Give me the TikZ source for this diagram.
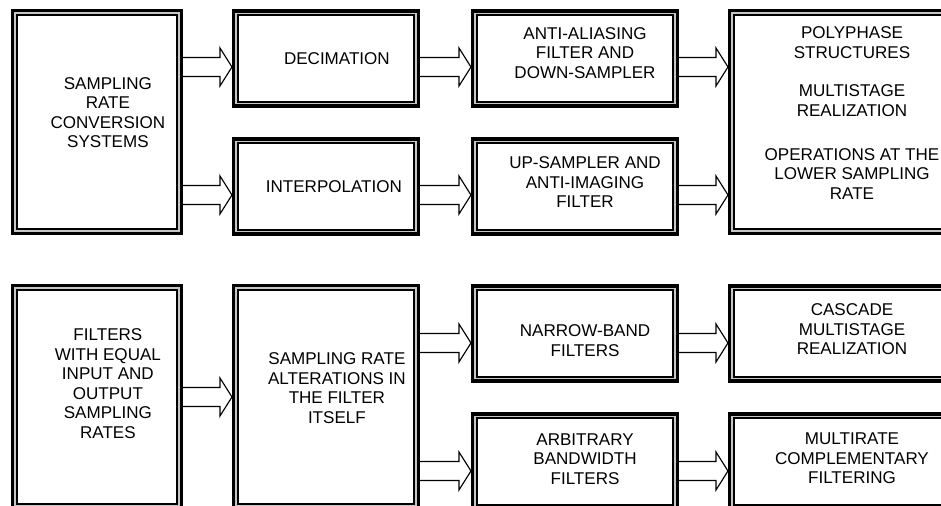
\documentclass[tikz,border=0pt]{standalone}
\usepackage{fontspec}
\setmainfont{Liberation Sans}
\usetikzlibrary{calc}

% hollow block arrow: source, target, level
\newcommand{\fatarrow}[3]{%
  \coordinate (fa-a) at (#1.east |- #3);
  \coordinate (fa-b) at (#2.west |- #3);
  \draw[arrowbody] ($(fa-a)+(0,-9.5)$) -- ($(fa-b)+(-12,-9.5)$) -- ($(fa-b)+(-12,-19)$) -- (fa-b)
    -- ($(fa-b)+(-12,19)$) -- ($(fa-b)+(-12,9.5)$) -- ($(fa-a)+(0,9.5)$);
}

\begin{document}
\begin{tikzpicture}[x=0.02cm, y=-0.02cm,
    box/.style={draw, fill=white, line width=1.1pt, double=gray!45, double distance=0.8pt,
      preaction={draw, line width=4.6pt}, outer sep=2.3pt, inner sep=0pt},
    boxtext/.style={align=center, font=\fontsize{9.7}{11.1}\selectfont},
    arrowbody/.style={draw, fill=white, line width=0.65pt, line join=miter}]
  \useasboundingbox (0,0) rectangle (941,506);
  \clip (0,0) rectangle (941,506);

  % upper row
  \node[box, minimum width=3.28cm, minimum height=4.36cm,
    label={[boxtext, xshift=6.2pt, yshift=5.4pt]center:{SAMPLING\\RATE\\CONVERSION\\SYSTEMS}}] (sys) at (97,122) {};
  \node[box, minimum width=3.60cm, minimum height=1.80cm,
    label={[boxtext, xshift=6.2pt]center:{DECIMATION}}] (dec) at (326,58.5) {};
  \node[box, minimum width=3.60cm, minimum height=1.80cm,
    label={[boxtext, xshift=4.5pt]center:{INTERPOLATION}}] (itp) at (326,186.5) {};
  \node[box, minimum width=4.00cm, minimum height=1.80cm,
    label={[boxtext, xshift=5.7pt, yshift=3.1pt]center:{ANTI-ALIASING\\FILTER AND\\DOWN-SAMPLER}}] (aa) at (575,58.5) {};
  \node[box, minimum width=4.00cm, minimum height=1.80cm,
    label={[boxtext, xshift=5.7pt, yshift=2.5pt]center:{UP-SAMPLER AND\\ANTI-IMAGING\\FILTER}}] (up) at (575,186.5) {};
  \node[box, minimum width=4.80cm, minimum height=4.36cm,
    label={[boxtext, yshift=5.1pt]center:{POLYPHASE\\STRUCTURES\\[11pt]MULTISTAGE\\REALIZATION\\[14pt]OPERATIONS AT THE\\LOWER SAMPLING\\RATE}}] (poly) at (852,122) {};

  % lower row
  \node[box, minimum width=3.28cm, minimum height=4.36cm,
    label={[boxtext, xshift=6.2pt, yshift=7.7pt]center:{FILTERS\\WITH EQUAL\\INPUT AND\\OUTPUT\\SAMPLING\\RATES}}] (flt) at (97,397) {};
  \node[box, minimum width=3.60cm, minimum height=4.36cm,
    label={[boxtext, xshift=6.2pt, yshift=5.1pt]center:{SAMPLING RATE\\ALTERATIONS IN\\THE FILTER\\ITSELF}}] (alt) at (326,397) {};
  \node[box, minimum width=4.00cm, minimum height=1.80cm,
    label={[boxtext, xshift=5.7pt, yshift=-4.2pt]center:{NARROW-BAND\\FILTERS}}] (nb) at (575,333.5) {};
  \node[box, minimum width=4.00cm, minimum height=1.80cm,
    label={[boxtext, xshift=5.7pt, yshift=1.4pt]center:{ARBITRARY\\BANDWIDTH\\FILTERS}}] (arb) at (575,461.5) {};
  \node[box, minimum width=4.80cm, minimum height=1.80cm,
    label={[boxtext, yshift=2.3pt]center:{CASCADE\\MULTISTAGE\\REALIZATION}}] (cas) at (852,333.5) {};
  \node[box, minimum width=4.80cm, minimum height=1.80cm,
    label={[boxtext, yshift=1.7pt]center:{MULTIRATE\\COMPLEMENTARY\\FILTERING}}] (mcf) at (852,461.5) {};

  % arrow levels
  \coordinate (lvA) at (0,67);
  \coordinate (lvB) at (0,195);
  \coordinate (lvC) at (0,397);
  \coordinate (lvD) at (0,343);
  \coordinate (lvE) at (0,471);

  % arrows
  \foreach \s/\t/\l in {sys/dec/lvA, sys/itp/lvB, dec/aa/lvA, itp/up/lvB, aa/poly/lvA, up/poly/lvB,
                        flt/alt/lvC, alt/nb/lvD, alt/arb/lvE, nb/cas/lvD, arb/mcf/lvE} {
    \fatarrow{\s}{\t}{\l}
  }
\end{tikzpicture}
\end{document}
